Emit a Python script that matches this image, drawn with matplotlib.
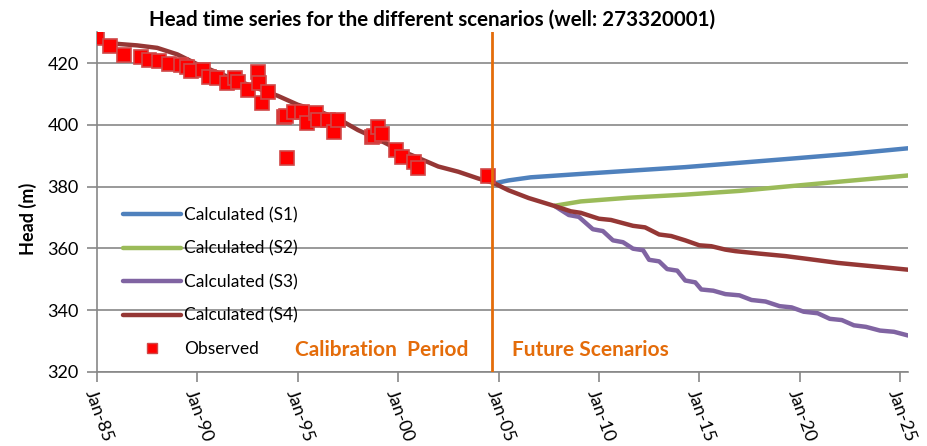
import matplotlib.pyplot as plt
from matplotlib.lines import Line2D

# Observed heads (decimal year, m)
obs_year = [1985.0, 1985.65, 1986.35, 1987.2, 1987.6, 1988.1, 1988.6, 1989.2, 1989.5, 1989.7,
            1990.3, 1990.6, 1991.0, 1991.5, 1991.9, 1992.0, 1992.5, 1993.0, 1993.05, 1993.2,
            1993.5, 1994.3, 1994.4, 1994.45, 1994.8, 1995.2, 1995.45, 1995.9, 1996.0, 1996.5,
            1996.8, 1997.0, 1998.7, 1998.8, 1999.0, 1999.2, 1999.9, 2000.2, 2000.8, 2001.0,
            2004.5]
obs_head = [428.2, 425.4, 422.5, 421.9, 420.9, 420.6, 419.7, 419.4, 418.8, 417.5,
            417.7, 415.6, 415.0, 413.4, 415.0, 414.0, 411.3, 417.2, 413.4, 407.0,
            410.7, 402.6, 402.8, 389.1, 404.2, 404.2, 400.5, 403.7, 401.6, 401.6,
            397.8, 401.6, 396.2, 396.4, 399.4, 397.0, 391.9, 389.7, 388.1, 386.0,
            383.3]

# Calculated heads
s4_year = [1985.0, 1986.0, 1987.0, 1988.0, 1989.0, 1990.0, 1991.0, 1992.0, 1993.0, 1994.0,
           1995.0, 1996.0, 1997.0, 1998.0, 1999.0, 2000.0, 2001.0, 2002.0, 2003.0, 2004.0,
           2004.75, 2005.5, 2006.5, 2007.8, 2008.6, 2009.1, 2010.0, 2010.6, 2011.7, 2012.3,
           2013.0, 2013.6, 2014.3, 2015.0, 2015.6, 2016.3, 2016.8, 2018.0, 2019.3, 2020.5,
           2021.9, 2023.0, 2024.3, 2025.4]
s4_head = [427.0, 426.2, 425.7, 424.9, 422.8, 419.6, 416.9, 414.3, 411.8, 409.4,
           406.5, 404.5, 402.0, 398.3, 395.3, 392.0, 389.3, 386.5, 384.8, 382.6,
           381.2, 378.8, 376.3, 373.7, 372.0, 371.5, 369.6, 369.2, 367.3, 366.8,
           364.5, 364.0, 362.6, 361.0, 360.7, 359.6, 359.1, 358.3, 357.5, 356.5,
           355.3, 354.6, 353.8, 353.1]

s3_year = [2007.8, 2008.5, 2009.0, 2009.7, 2010.2, 2010.7, 2011.2, 2011.7, 2012.2, 2012.5,
           2013.0, 2013.4, 2013.9, 2014.3, 2014.8, 2015.1, 2015.7, 2016.3, 2017.0, 2017.6,
           2018.3, 2019.0, 2019.6, 2020.2, 2020.9, 2021.5, 2022.1, 2022.7, 2023.3, 2024.0,
           2024.7, 2025.4]
s3_head = [373.7, 370.8, 370.2, 366.2, 365.6, 362.6, 362.0, 359.9, 359.4, 356.3,
           355.8, 353.3, 352.8, 349.6, 349.0, 346.7, 346.3, 345.2, 344.8, 343.3,
           342.8, 341.3, 340.9, 339.5, 339.0, 337.2, 336.8, 335.1, 334.6, 333.4,
           333.0, 331.8]

s2_year = [2007.8, 2009.1, 2011.5, 2014.3, 2017.0, 2019.3, 2022.0, 2025.4]
s2_head = [373.8, 375.2, 376.4, 377.4, 378.6, 380.0, 381.6, 383.6]

s1_year = [2004.75, 2005.5, 2006.6, 2009.1, 2014.3, 2019.3, 2022.5, 2025.4]
s1_head = [381.0, 382.0, 383.0, 384.1, 386.3, 388.9, 390.6, 392.4]

tick_years = [1985, 1990, 1995, 2000, 2005, 2010, 2015, 2020, 2025]
tick_labels = ['Jan-85', 'Jan-90', 'Jan-95', 'Jan-00', 'Jan-05',
               'Jan-10', 'Jan-15', 'Jan-20', 'Jan-25']
split_year = 2004.7

plt.rcParams['font.family'] = ['Lato', 'DejaVu Sans']
orange = '#E46C0A'
grey = '#878787'

fig = plt.figure(figsize=(9.27, 4.46), dpi=100)
ax = fig.add_axes([0.1046, 0.166, 0.875, 0.762])

ax.plot(s1_year, s1_head, color='#4F81BD', lw=3.2, solid_capstyle='round', zorder=3)
ax.plot(s2_year, s2_head, color='#9BBB59', lw=3.2, solid_capstyle='round', zorder=3)
ax.plot(s3_year, s3_head, color='#8064A2', lw=3.2, solid_capstyle='round', zorder=3)
ax.plot(s4_year, s4_head, color='#953735', lw=3.2, solid_capstyle='round', zorder=4)
ax.plot(obs_year, obs_head, ls='none', marker='s', ms=10, mfc='#FF0000',
        mec='#D04848', mew=1.2, zorder=5)

ax.axvline(split_year, color=orange, lw=2, zorder=6)
ax.text(1994.85, 327.0, 'Calibration  Period', color=orange, fontsize=15,
        fontweight='bold', va='center', ha='left')
ax.text(2005.65, 327.0, 'Future Scenarios', color=orange, fontsize=15,
        fontweight='bold', va='center', ha='left')

ax.set_xlim(1985, 2025.4)
ax.set_ylim(320, 430)
ax.set_yticks([320, 340, 360, 380, 400, 420])
ax.set_xticks(tick_years)
ax.set_xticklabels(tick_labels, rotation=-70, ha='left', va='top',
                   rotation_mode='anchor', fontsize=13)
ax.tick_params(axis='y', labelsize=13, length=7, color=grey, width=1.2, pad=6)
ax.tick_params(axis='x', length=7, color=grey, width=1.2, pad=4)
ax.grid(axis='y', color=grey, lw=1.2)
ax.set_axisbelow(True)
for side in ['top', 'right']:
    ax.spines[side].set_visible(False)
for side in ['left', 'bottom']:
    ax.spines[side].set_color(grey)
    ax.spines[side].set_linewidth(1.2)

ax.set_ylabel('Head (m)', fontsize=13, fontweight='bold')
ax.yaxis.set_label_coords(-0.074, 0.45)
fig.text(432.5 / 927, 1 - 20 / 446,
         'Head time series for the different scenarios (well: 273320001)',
         fontsize=14.8, fontweight='bold', ha='center', va='center')

handles = [Line2D([], [], color='#4F81BD', lw=3.2, solid_capstyle='round'),
           Line2D([], [], color='#9BBB59', lw=3.2, solid_capstyle='round'),
           Line2D([], [], color='#8064A2', lw=3.2, solid_capstyle='round'),
           Line2D([], [], color='#953735', lw=3.2, solid_capstyle='round'),
           Line2D([], [], ls='none', marker='s', ms=7, mfc='#FF0000', mec='#D04848')]
labels = ['Calculated (S1)', 'Calculated (S2)', 'Calculated (S3)',
          'Calculated (S4)', 'Observed']
ax.legend(handles, labels, loc='upper left', bbox_to_anchor=(0.024, 0.505),
          frameon=False, fontsize=12.5, handlelength=3.3, handletextpad=0.2,
          labelspacing=1.0, borderaxespad=0)

fig.savefig('out.png', dpi=100)
